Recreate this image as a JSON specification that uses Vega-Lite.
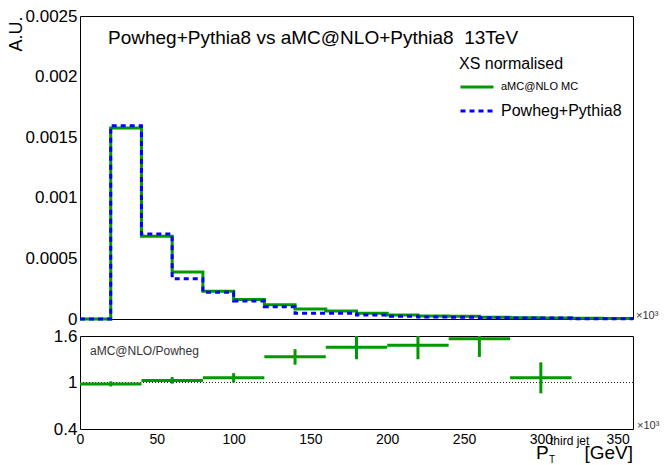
{
  "$schema": "https://vega.github.io/schema/vega-lite/v6.json",
  "background": "white",
  "padding": {"left": 6, "top": 6, "right": 5, "bottom": 2},
  "spacing": 17,
  "bounds": "flush",
  "config": {
    "font": "Liberation Sans",
    "view": {"stroke": "black", "strokeWidth": 1},
    "axis": {"domain": false, "grid": false, "labelFont": "Liberation Sans", "labelColor": "black", "labelFontSize": 17, "tickColor": "black", "tickWidth": 1, "labelFlush": false, "labelOverlap": false, "title": null}
  },
  "datasets": {
    "hist": [
      {"sample": "aMC@NLO MC", "pt": 0, "value": 0},
      {"sample": "aMC@NLO MC", "pt": 20, "value": 0.001576},
      {"sample": "aMC@NLO MC", "pt": 40, "value": 0.000682},
      {"sample": "aMC@NLO MC", "pt": 60, "value": 0.000388},
      {"sample": "aMC@NLO MC", "pt": 80, "value": 0.000228},
      {"sample": "aMC@NLO MC", "pt": 100, "value": 0.00016},
      {"sample": "aMC@NLO MC", "pt": 120, "value": 0.000118},
      {"sample": "aMC@NLO MC", "pt": 140, "value": 0.000082},
      {"sample": "aMC@NLO MC", "pt": 160, "value": 0.000066},
      {"sample": "aMC@NLO MC", "pt": 180, "value": 0.000047},
      {"sample": "aMC@NLO MC", "pt": 200, "value": 0.000033},
      {"sample": "aMC@NLO MC", "pt": 220, "value": 0.000025},
      {"sample": "aMC@NLO MC", "pt": 240, "value": 0.000023},
      {"sample": "aMC@NLO MC", "pt": 260, "value": 0.000015},
      {"sample": "aMC@NLO MC", "pt": 280, "value": 0.00001},
      {"sample": "aMC@NLO MC", "pt": 300, "value": 0.000008},
      {"sample": "aMC@NLO MC", "pt": 320, "value": 0.000006},
      {"sample": "aMC@NLO MC", "pt": 340, "value": 0.000005},
      {"sample": "aMC@NLO MC", "pt": 360, "value": 0.000005},
      {"sample": "Powheg+Pythia8", "pt": 0, "value": 0},
      {"sample": "Powheg+Pythia8", "pt": 20, "value": 0.001595},
      {"sample": "Powheg+Pythia8", "pt": 40, "value": 0.000701},
      {"sample": "Powheg+Pythia8", "pt": 60, "value": 0.000333},
      {"sample": "Powheg+Pythia8", "pt": 80, "value": 0.00022},
      {"sample": "Powheg+Pythia8", "pt": 100, "value": 0.000149},
      {"sample": "Powheg+Pythia8", "pt": 120, "value": 0.000102},
      {"sample": "Powheg+Pythia8", "pt": 140, "value": 0.000047},
      {"sample": "Powheg+Pythia8", "pt": 160, "value": 0.000047},
      {"sample": "Powheg+Pythia8", "pt": 180, "value": 0.000033},
      {"sample": "Powheg+Pythia8", "pt": 200, "value": 0.000022},
      {"sample": "Powheg+Pythia8", "pt": 220, "value": 0.000016},
      {"sample": "Powheg+Pythia8", "pt": 240, "value": 0.000014},
      {"sample": "Powheg+Pythia8", "pt": 260, "value": 0.00001},
      {"sample": "Powheg+Pythia8", "pt": 280, "value": 0.000009},
      {"sample": "Powheg+Pythia8", "pt": 300, "value": 0.000008},
      {"sample": "Powheg+Pythia8", "pt": 320, "value": 0.000002},
      {"sample": "Powheg+Pythia8", "pt": 340, "value": 0.000002},
      {"sample": "Powheg+Pythia8", "pt": 360, "value": 0.000002}
    ],
    "ratio": [
      {"xlo": 0, "xhi": 40, "xc": 20, "ratio": 0.982, "lo": 0.95, "hi": 1.015},
      {"xlo": 40, "xhi": 80, "xc": 60, "ratio": 1.026, "lo": 0.985, "hi": 1.07},
      {"xlo": 80, "xhi": 120, "xc": 100, "ratio": 1.061, "lo": 1.0, "hi": 1.12},
      {"xlo": 120, "xhi": 160, "xc": 140, "ratio": 1.333, "lo": 1.23, "hi": 1.43},
      {"xlo": 160, "xhi": 200, "xc": 180, "ratio": 1.456, "lo": 1.3, "hi": 1.61},
      {"xlo": 200, "xhi": 240, "xc": 220, "ratio": 1.48, "lo": 1.3, "hi": 1.65},
      {"xlo": 240, "xhi": 280, "xc": 260, "ratio": 1.566, "lo": 1.33, "hi": 1.8},
      {"xlo": 280, "xhi": 320, "xc": 300, "ratio": 1.061, "lo": 0.86, "hi": 1.26}
    ],
    "one": [{}]
  },
  "vconcat": [
    {
      "width": 553,
      "height": 303,
      "layer": [
        {
          "data": {"name": "hist"},
          "mark": {"type": "line", "interpolate": "step-after", "strokeWidth": 3},
          "encoding": {
            "x": {
              "field": "pt", "type": "quantitative",
              "scale": {"domain": [0, 360], "nice": false, "zero": false},
              "axis": {"values": [0,10,20,30,40,50,60,70,80,90,100,110,120,130,140,150,160,170,180,190,200,210,220,230,240,250,260,270,280,290,300,310,320,330,340,350,360], "labels": false, "labelOverlap": false, "tickSize": 0, "encode": {"ticks": {"update": {"y2": {"signal": "datum.value % 50 == 0 ? -8 : -5"}}}}}
            },
            "y": {
              "field": "value", "type": "quantitative",
              "scale": {"domain": [0, 0.0025], "nice": false},
              "axis": {"values": [0,0.0001,0.0002,0.0003,0.0004,0.0005,0.0006,0.0007,0.0008,0.0009,0.001,0.0011,0.0012,0.0013,0.0014,0.0015,0.0016,0.0017,0.0018,0.0019,0.002,0.0021,0.0022,0.0023,0.0024,0.0025], "labelExpr": "abs(datum.value/0.0005 - round(datum.value/0.0005)) < 0.001 ? format(datum.value, '~g') : ''", "labelOverlap": false, "labelFlush": false, "tickSize": 0, "encode": {"ticks": {"update": {"x2": {"signal": "abs(datum.value/0.0005 - round(datum.value/0.0005)) < 0.001 ? 19 : 10"}}}}, "labelPadding": 3, "title": "A.U.", "titleFont": "Liberation Sans", "titleFontSize": 18, "titleFontWeight": "normal", "titleColor": "black", "titleAngle": -90, "titleAnchor": "end", "titleBaseline": "bottom", "titlePadding": 0}
            },
            "color": {
              "field": "sample", "type": "nominal",
              "scale": {"domain": ["aMC@NLO MC", "Powheg+Pythia8"], "range": ["#009a00", "#0000ff"]},
              "legend": {
                "orient": "none", "legendX": 379, "legendY": 40,
                "title": "XS normalised", "titleFont": "Liberation Sans", "titleFontSize": 16, "titleFontWeight": "normal", "titleColor": "black", "titlePadding": -3,
                "symbolType": "stroke", "symbolSize": 1089, "symbolStrokeWidth": 3,
                "labelFont": "Liberation Sans", "labelFontSize": 16, "labelColor": "black", "labelOffset": 6, "rowPadding": -14, "padding": 0,
                "encode": {"labels": {"update": {"fontSize": {"signal": "datum.label == 'aMC@NLO MC' ? 11 : 16"}}}}
              }
            },
            "strokeDash": {
              "field": "sample", "type": "nominal",
              "scale": {"domain": ["aMC@NLO MC", "Powheg+Pythia8"], "range": [[1, 0], [5, 4]]},
              "legend": {
                "orient": "none", "legendX": 379, "legendY": 40,
                "title": "XS normalised", "titleFont": "Liberation Sans", "titleFontSize": 16, "titleFontWeight": "normal", "titleColor": "black", "titlePadding": -3,
                "symbolType": "stroke", "symbolSize": 1089, "symbolStrokeWidth": 3,
                "labelFont": "Liberation Sans", "labelFontSize": 16, "labelColor": "black", "labelOffset": 6, "rowPadding": -14, "padding": 0,
                "encode": {"labels": {"update": {"fontSize": {"signal": "datum.label == 'aMC@NLO MC' ? 11 : 16"}}}}
              }
            }
          }
        },
        {
          "data": {"name": "one"},
          "mark": {"type": "text", "text": "Powheg+Pythia8 vs aMC@NLO+Pythia8 \u00a013TeV", "align": "left", "baseline": "alphabetic", "fontSize": 19, "font": "Liberation Sans", "color": "black", "dx": 28, "dy": 28},
          "encoding": {
            "x": {"datum": 0, "type": "quantitative",
              "axis": {"values": [0,10,20,30,40,50,60,70,80,90,100,110,120,130,140,150,160,170,180,190,200,210,220,230,240,250,260,270,280,290,300,310,320,330,340,350,360], "labels": false, "labelOverlap": false, "tickSize": 0, "encode": {"ticks": {"update": {"y2": {"signal": "datum.value % 50 == 0 ? -8 : -5"}}}}}},
            "y": {"datum": 0.0025, "type": "quantitative",
              "axis": {"values": [0,0.0001,0.0002,0.0003,0.0004,0.0005,0.0006,0.0007,0.0008,0.0009,0.001,0.0011,0.0012,0.0013,0.0014,0.0015,0.0016,0.0017,0.0018,0.0019,0.002,0.0021,0.0022,0.0023,0.0024,0.0025], "labelExpr": "abs(datum.value/0.0005 - round(datum.value/0.0005)) < 0.001 ? format(datum.value, '~g') : ''", "labelOverlap": false, "labelFlush": false, "tickSize": 0, "encode": {"ticks": {"update": {"x2": {"signal": "abs(datum.value/0.0005 - round(datum.value/0.0005)) < 0.001 ? 19 : 10"}}}}, "labelPadding": 3, "title": "A.U.", "titleFont": "Liberation Sans", "titleFontSize": 18, "titleFontWeight": "normal", "titleColor": "black", "titleAngle": -90, "titleAnchor": "end", "titleBaseline": "bottom", "titlePadding": 0}}
          }
        },
        {
          "data": {"name": "one"},
          "mark": {"type": "text", "text": "\u00d710\u00b3", "align": "left", "baseline": "alphabetic", "fontSize": 11, "font": "Liberation Sans", "color": "#333333", "dx": 3, "dy": 0},
          "encoding": {
            "x": {"datum": 360, "type": "quantitative",
              "axis": {"values": [0,10,20,30,40,50,60,70,80,90,100,110,120,130,140,150,160,170,180,190,200,210,220,230,240,250,260,270,280,290,300,310,320,330,340,350,360], "labels": false, "labelOverlap": false, "tickSize": 0, "encode": {"ticks": {"update": {"y2": {"signal": "datum.value % 50 == 0 ? -8 : -5"}}}}}},
            "y": {"datum": 0, "type": "quantitative",
              "axis": {"values": [0,0.0001,0.0002,0.0003,0.0004,0.0005,0.0006,0.0007,0.0008,0.0009,0.001,0.0011,0.0012,0.0013,0.0014,0.0015,0.0016,0.0017,0.0018,0.0019,0.002,0.0021,0.0022,0.0023,0.0024,0.0025], "labelExpr": "abs(datum.value/0.0005 - round(datum.value/0.0005)) < 0.001 ? format(datum.value, '~g') : ''", "labelOverlap": false, "labelFlush": false, "tickSize": 0, "encode": {"ticks": {"update": {"x2": {"signal": "abs(datum.value/0.0005 - round(datum.value/0.0005)) < 0.001 ? 19 : 10"}}}}, "labelPadding": 3, "title": "A.U.", "titleFont": "Liberation Sans", "titleFontSize": 18, "titleFontWeight": "normal", "titleColor": "black", "titleAngle": -90, "titleAnchor": "end", "titleBaseline": "bottom", "titlePadding": 0}}
          }
        }
      ]
    },
    {
      "width": 553,
      "height": 93,
      "layer": [
        {
          "data": {"name": "one"},
          "mark": {"type": "rule", "strokeDash": [1, 2], "strokeWidth": 1, "color": "#222222"},
          "encoding": {
            "y": {
              "datum": 1, "type": "quantitative",
              "scale": {"domain": [0.4, 1.6], "nice": false, "zero": false},
              "axis": {"values": [0.4, 1, 1.6], "ticks": false, "labelPadding": 3, "format": "~g", "labelOverlap": false, "labelFlush": false}
            }
          }
        },
        {
          "data": {"name": "ratio"},
          "mark": {"type": "rule", "strokeWidth": 3, "color": "#009a00"},
          "encoding": {
            "x": {
              "field": "xlo", "type": "quantitative",
              "scale": {"domain": [0, 360], "nice": false, "zero": false},
              "axis": {"values": [0,10,20,30,40,50,60,70,80,90,100,110,120,130,140,150,160,170,180,190,200,210,220,230,240,250,260,270,280,290,300,310,320,330,340,350,360], "labelExpr": "datum.value % 50 == 0 && datum.value < 360 ? datum.label : ''", "labelFontSize": 14, "labelOverlap": false, "labelFlush": false, "tickSize": 0, "encode": {"ticks": {"update": {"y2": {"signal": "datum.value % 50 == 0 ? -6 : -3"}}}}, "labelPadding": 3}
            },
            "x2": {"field": "xhi"},
            "y": {"field": "ratio", "type": "quantitative", "axis": {"values": [0.4, 1, 1.6], "ticks": false, "labelPadding": 3, "format": "~g", "labelOverlap": false, "labelFlush": false}}
          }
        },
        {
          "data": {"name": "ratio"},
          "mark": {"type": "rule", "strokeWidth": 3, "color": "#009a00", "clip": true},
          "encoding": {
            "x": {"field": "xc", "type": "quantitative",
              "axis": {"values": [0,10,20,30,40,50,60,70,80,90,100,110,120,130,140,150,160,170,180,190,200,210,220,230,240,250,260,270,280,290,300,310,320,330,340,350,360], "labelExpr": "datum.value % 50 == 0 && datum.value < 360 ? datum.label : ''", "labelFontSize": 14, "labelOverlap": false, "labelFlush": false, "tickSize": 0, "encode": {"ticks": {"update": {"y2": {"signal": "datum.value % 50 == 0 ? -6 : -3"}}}}, "labelPadding": 3}},
            "y": {"field": "lo", "type": "quantitative", "axis": {"values": [0.4, 1, 1.6], "ticks": false, "labelPadding": 3, "format": "~g", "labelOverlap": false, "labelFlush": false}},
            "y2": {"field": "hi"}
          }
        },
        {
          "data": {"name": "one"},
          "mark": {"type": "text", "text": "aMC@NLO/Powheg", "align": "left", "baseline": "alphabetic", "fontSize": 12, "font": "Liberation Sans", "color": "#333333", "dx": 10, "dy": 19},
          "encoding": {
            "x": {"datum": 0, "type": "quantitative",
              "axis": {"values": [0,10,20,30,40,50,60,70,80,90,100,110,120,130,140,150,160,170,180,190,200,210,220,230,240,250,260,270,280,290,300,310,320,330,340,350,360], "labelExpr": "datum.value % 50 == 0 && datum.value < 360 ? datum.label : ''", "labelFontSize": 14, "labelOverlap": false, "labelFlush": false, "tickSize": 0, "encode": {"ticks": {"update": {"y2": {"signal": "datum.value % 50 == 0 ? -6 : -3"}}}}, "labelPadding": 3}},
            "y": {"datum": 1.6, "type": "quantitative", "axis": {"values": [0.4, 1, 1.6], "ticks": false, "labelPadding": 3, "format": "~g", "labelOverlap": false, "labelFlush": false}}
          }
        },
        {
          "data": {"name": "one"},
          "mark": {"type": "text", "text": "\u00d710\u00b3", "align": "left", "baseline": "alphabetic", "fontSize": 11, "font": "Liberation Sans", "color": "#333333", "dx": 4, "dy": 0},
          "encoding": {
            "x": {"datum": 360, "type": "quantitative",
              "axis": {"values": [0,10,20,30,40,50,60,70,80,90,100,110,120,130,140,150,160,170,180,190,200,210,220,230,240,250,260,270,280,290,300,310,320,330,340,350,360], "labelExpr": "datum.value % 50 == 0 && datum.value < 360 ? datum.label : ''", "labelFontSize": 14, "labelOverlap": false, "labelFlush": false, "tickSize": 0, "encode": {"ticks": {"update": {"y2": {"signal": "datum.value % 50 == 0 ? -6 : -3"}}}}, "labelPadding": 3}},
            "y": {"datum": 0.4, "type": "quantitative", "axis": {"values": [0.4, 1, 1.6], "ticks": false, "labelPadding": 3, "format": "~g", "labelOverlap": false, "labelFlush": false}}
          }
        },
        {
          "data": {"name": "one"},
          "mark": {"type": "text", "text": "[GeV]", "align": "right", "baseline": "alphabetic", "fontSize": 19, "font": "Liberation Sans", "color": "black", "dx": 0, "dy": 30},
          "encoding": {
            "x": {"datum": 360, "type": "quantitative",
              "axis": {"values": [0,10,20,30,40,50,60,70,80,90,100,110,120,130,140,150,160,170,180,190,200,210,220,230,240,250,260,270,280,290,300,310,320,330,340,350,360], "labelExpr": "datum.value % 50 == 0 && datum.value < 360 ? datum.label : ''", "labelFontSize": 14, "labelOverlap": false, "labelFlush": false, "tickSize": 0, "encode": {"ticks": {"update": {"y2": {"signal": "datum.value % 50 == 0 ? -6 : -3"}}}}, "labelPadding": 3}},
            "y": {"datum": 0.4, "type": "quantitative", "axis": {"values": [0.4, 1, 1.6], "ticks": false, "labelPadding": 3, "format": "~g", "labelOverlap": false, "labelFlush": false}}
          }
        },
        {
          "data": {"name": "one"},
          "mark": {"type": "text", "text": "P", "align": "left", "baseline": "alphabetic", "fontSize": 19, "font": "Liberation Sans", "color": "black", "dx": -97, "dy": 30},
          "encoding": {
            "x": {"datum": 360, "type": "quantitative",
              "axis": {"values": [0,10,20,30,40,50,60,70,80,90,100,110,120,130,140,150,160,170,180,190,200,210,220,230,240,250,260,270,280,290,300,310,320,330,340,350,360], "labelExpr": "datum.value % 50 == 0 && datum.value < 360 ? datum.label : ''", "labelFontSize": 14, "labelOverlap": false, "labelFlush": false, "tickSize": 0, "encode": {"ticks": {"update": {"y2": {"signal": "datum.value % 50 == 0 ? -6 : -3"}}}}, "labelPadding": 3}},
            "y": {"datum": 0.4, "type": "quantitative", "axis": {"values": [0.4, 1, 1.6], "ticks": false, "labelPadding": 3, "format": "~g", "labelOverlap": false, "labelFlush": false}}
          }
        },
        {
          "data": {"name": "one"},
          "mark": {"type": "text", "text": "T", "align": "left", "baseline": "alphabetic", "fontSize": 10, "font": "Liberation Sans", "color": "black", "dx": -84, "dy": 34},
          "encoding": {
            "x": {"datum": 360, "type": "quantitative",
              "axis": {"values": [0,10,20,30,40,50,60,70,80,90,100,110,120,130,140,150,160,170,180,190,200,210,220,230,240,250,260,270,280,290,300,310,320,330,340,350,360], "labelExpr": "datum.value % 50 == 0 && datum.value < 360 ? datum.label : ''", "labelFontSize": 14, "labelOverlap": false, "labelFlush": false, "tickSize": 0, "encode": {"ticks": {"update": {"y2": {"signal": "datum.value % 50 == 0 ? -6 : -3"}}}}, "labelPadding": 3}},
            "y": {"datum": 0.4, "type": "quantitative", "axis": {"values": [0.4, 1, 1.6], "ticks": false, "labelPadding": 3, "format": "~g", "labelOverlap": false, "labelFlush": false}}
          }
        },
        {
          "data": {"name": "one"},
          "mark": {"type": "text", "text": "third jet", "align": "left", "baseline": "alphabetic", "fontSize": 12, "font": "Liberation Sans", "color": "black", "dx": -83, "dy": 16},
          "encoding": {
            "x": {"datum": 360, "type": "quantitative",
              "axis": {"values": [0,10,20,30,40,50,60,70,80,90,100,110,120,130,140,150,160,170,180,190,200,210,220,230,240,250,260,270,280,290,300,310,320,330,340,350,360], "labelExpr": "datum.value % 50 == 0 && datum.value < 360 ? datum.label : ''", "labelFontSize": 14, "labelOverlap": false, "labelFlush": false, "tickSize": 0, "encode": {"ticks": {"update": {"y2": {"signal": "datum.value % 50 == 0 ? -6 : -3"}}}}, "labelPadding": 3}},
            "y": {"datum": 0.4, "type": "quantitative", "axis": {"values": [0.4, 1, 1.6], "ticks": false, "labelPadding": 3, "format": "~g", "labelOverlap": false, "labelFlush": false}}
          }
        }
      ]
    }
  ]
}
